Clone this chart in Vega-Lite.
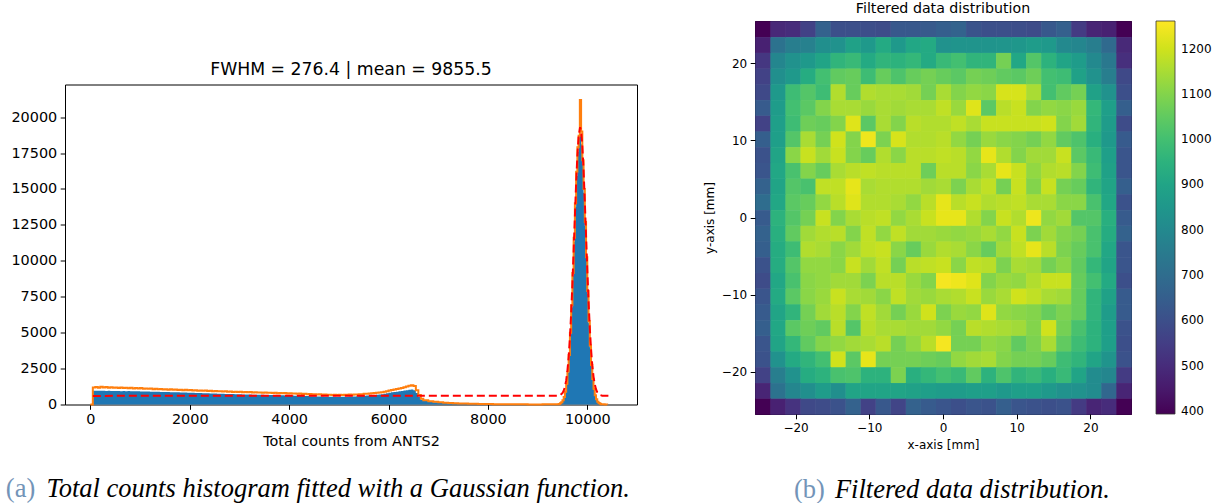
{
"$schema": "https://vega.github.io/schema/vega-lite/v6.json",
"background": "white",
"padding": {"left": 5, "top": 1, "right": 0, "bottom": 0},
"config": {
  "view": {"stroke": "black", "strokeWidth": 1},
  "axis": {"domain": false, "grid": false, "tickColor": "black", "labelColor": "black", "titleColor": "black", "labelFont": "DejaVu Sans", "titleFont": "DejaVu Sans", "titleFontWeight": "normal", "tickSize": 4.8, "labelPadding": 3.5, "labelOverlap": false},
  "title": {"font": "DejaVu Sans", "fontWeight": "normal", "color": "black"},
  "legend": {"labelFont": "DejaVu Sans", "labelColor": "black", "padding": 0},
  "concat": {"spacing": 64}
},
"datasets": {
  "hist": [
    {"x":0,"b":0,"o":0},{"x":50,"b":960,"o":1180},{"x":100,"b":955,"o":1210},{"x":150,"b":965,"o":1170},{"x":200,"b":950,"o":1230},{"x":250,"b":958,"o":1190},{"x":300,"b":945,"o":1220},{"x":350,"b":952,"o":1160},{"x":400,"b":940,"o":1200},{"x":450,"b":948,"o":1170},{"x":500,"b":935,"o":1190},{"x":550,"b":942,"o":1150},{"x":600,"b":930,"o":1180},{"x":650,"b":938,"o":1140},{"x":700,"b":925,"o":1170},{"x":750,"b":932,"o":1130},{"x":800,"b":920,"o":1160},{"x":850,"b":926,"o":1120},{"x":900,"b":915,"o":1150},{"x":950,"b":920,"o":1110},
    {"x":1000,"b":910,"o":1140},{"x":1050,"b":905,"o":1100},{"x":1100,"b":900,"o":1120},{"x":1150,"b":898,"o":1090},{"x":1200,"b":892,"o":1110},{"x":1250,"b":888,"o":1070},{"x":1300,"b":885,"o":1095},{"x":1350,"b":880,"o":1060},{"x":1400,"b":875,"o":1080},{"x":1450,"b":870,"o":1045},{"x":1500,"b":866,"o":1070},{"x":1550,"b":862,"o":1035},{"x":1600,"b":858,"o":1055},{"x":1650,"b":852,"o":1025},{"x":1700,"b":848,"o":1045},{"x":1750,"b":844,"o":1010},{"x":1800,"b":838,"o":1030},{"x":1850,"b":834,"o":1000},{"x":1900,"b":828,"o":1020},{"x":1950,"b":824,"o":990},
    {"x":2000,"b":818,"o":1005},{"x":2050,"b":812,"o":975},{"x":2100,"b":806,"o":995},{"x":2150,"b":800,"o":965},{"x":2200,"b":795,"o":980},{"x":2250,"b":790,"o":950},{"x":2300,"b":784,"o":970},{"x":2350,"b":778,"o":940},{"x":2400,"b":772,"o":955},{"x":2450,"b":766,"o":925},{"x":2500,"b":760,"o":945},{"x":2550,"b":754,"o":915},{"x":2600,"b":749,"o":930},{"x":2650,"b":744,"o":900},{"x":2700,"b":739,"o":918},{"x":2750,"b":734,"o":890},{"x":2800,"b":729,"o":905},{"x":2850,"b":724,"o":878},{"x":2900,"b":719,"o":895},{"x":2950,"b":714,"o":868},
    {"x":3000,"b":709,"o":884},{"x":3050,"b":704,"o":858},{"x":3100,"b":700,"o":872},{"x":3150,"b":695,"o":848},{"x":3200,"b":691,"o":862},{"x":3250,"b":687,"o":838},{"x":3300,"b":683,"o":852},{"x":3350,"b":679,"o":830},{"x":3400,"b":675,"o":842},{"x":3450,"b":671,"o":820},{"x":3500,"b":667,"o":833},{"x":3550,"b":663,"o":810},{"x":3600,"b":659,"o":822},{"x":3650,"b":655,"o":800},{"x":3700,"b":651,"o":812},{"x":3750,"b":647,"o":790},{"x":3800,"b":643,"o":802},{"x":3850,"b":639,"o":780},{"x":3900,"b":635,"o":792},{"x":3950,"b":631,"o":770},
    {"x":4000,"b":626,"o":782},{"x":4050,"b":621,"o":760},{"x":4100,"b":616,"o":770},{"x":4150,"b":610,"o":748},{"x":4200,"b":604,"o":758},{"x":4250,"b":598,"o":735},{"x":4300,"b":592,"o":745},{"x":4350,"b":586,"o":722},{"x":4400,"b":580,"o":732},{"x":4450,"b":574,"o":710},{"x":4500,"b":568,"o":718},{"x":4550,"b":562,"o":698},{"x":4600,"b":556,"o":706},{"x":4650,"b":550,"o":686},{"x":4700,"b":545,"o":694},{"x":4750,"b":540,"o":675},{"x":4800,"b":536,"o":684},{"x":4850,"b":533,"o":668},{"x":4900,"b":531,"o":678},{"x":4950,"b":530,"o":664},
    {"x":5000,"b":531,"o":676},{"x":5050,"b":534,"o":665},{"x":5100,"b":538,"o":680},{"x":5150,"b":543,"o":672},{"x":5200,"b":549,"o":690},{"x":5250,"b":556,"o":684},{"x":5300,"b":564,"o":704},{"x":5350,"b":573,"o":700},{"x":5400,"b":583,"o":722},{"x":5450,"b":594,"o":720},{"x":5500,"b":606,"o":745},{"x":5550,"b":619,"o":745},{"x":5600,"b":633,"o":772},{"x":5650,"b":648,"o":775},{"x":5700,"b":664,"o":805},{"x":5750,"b":681,"o":810},{"x":5800,"b":699,"o":842},{"x":5850,"b":718,"o":850},{"x":5900,"b":740,"o":884},{"x":5950,"b":780,"o":920},
    {"x":6000,"b":820,"o":980},{"x":6050,"b":845,"o":1010},{"x":6100,"b":870,"o":1050},{"x":6150,"b":895,"o":1080},{"x":6200,"b":920,"o":1120},{"x":6250,"b":945,"o":1150},{"x":6300,"b":970,"o":1200},{"x":6350,"b":995,"o":1250},{"x":6400,"b":1020,"o":1310},{"x":6450,"b":1040,"o":1340},{"x":6500,"b":1000,"o":1280},{"x":6550,"b":800,"o":1000},{"x":6600,"b":520,"o":660},{"x":6650,"b":330,"o":400},{"x":6700,"b":260,"o":300},
    {"x":6800,"b":200,"o":230},{"x":6900,"b":160,"o":185},{"x":7000,"b":130,"o":150},{"x":7100,"b":110,"o":125},{"x":7200,"b":92,"o":105},{"x":7300,"b":78,"o":90},{"x":7400,"b":66,"o":76},{"x":7500,"b":56,"o":65},{"x":7600,"b":48,"o":55},{"x":7700,"b":41,"o":48},{"x":7800,"b":35,"o":41},{"x":7900,"b":30,"o":35},{"x":8000,"b":25,"o":30},{"x":8100,"b":21,"o":25},{"x":8200,"b":18,"o":21},{"x":8300,"b":15,"o":18},{"x":8400,"b":12,"o":15},{"x":8500,"b":10,"o":13},{"x":8600,"b":8,"o":10},{"x":8700,"b":7,"o":9},{"x":8800,"b":6,"o":8},{"x":8900,"b":6,"o":8},{"x":9000,"b":6,"o":8},{"x":9100,"b":7,"o":9},{"x":9200,"b":8,"o":10},{"x":9300,"b":11,"o":14},
    {"x":9400,"b":15,"o":20},{"x":9425,"b":33,"o":40},{"x":9450,"b":69,"o":80},{"x":9475,"b":138,"o":150},{"x":9500,"b":264,"o":290},{"x":9525,"b":479,"o":520},{"x":9550,"b":834,"o":880},{"x":9575,"b":1388,"o":1450},{"x":9600,"b":2207,"o":2300},{"x":9625,"b":3352,"o":3450},{"x":9650,"b":4869,"o":5000},{"x":9675,"b":6753,"o":6900},{"x":9700,"b":8953,"o":9150},{"x":9725,"b":11346,"o":11600},{"x":9750,"b":13737,"o":14000},{"x":9775,"b":15897,"o":16200},{"x":9800,"b":17582,"o":17900},{"x":9825,"b":18580,"o":18700},{"x":9850,"b":18763,"o":21200},{"x":9875,"b":18114,"o":19000},
    {"x":9900,"b":16710,"o":17000},{"x":9925,"b":14734,"o":15000},{"x":9950,"b":12414,"o":12700},{"x":9975,"b":9993,"o":10250},{"x":10000,"b":7689,"o":7900},{"x":10025,"b":5657,"o":5800},{"x":10050,"b":3975,"o":4100},{"x":10075,"b":2668,"o":2750},{"x":10100,"b":1713,"o":1780},{"x":10125,"b":1050,"o":1100},{"x":10150,"b":615,"o":650},{"x":10175,"b":345,"o":370},{"x":10200,"b":185,"o":200},{"x":10225,"b":95,"o":105},{"x":10250,"b":46,"o":52},{"x":10275,"b":22,"o":26},{"x":10300,"b":10,"o":12},{"x":10350,"b":4,"o":5},{"x":10400,"b":0,"o":0}
  ],
  "fit": [
    {"x":50,"f":600},{"x":9400,"f":610},{"x":9450,"f":648},{"x":9500,"f":791},{"x":9525,"f":956},{"x":9550,"f":1232},{"x":9575,"f":1677},{"x":9600,"f":2352},{"x":9625,"f":3322},{"x":9650,"f":4640},{"x":9675,"f":6335},{"x":9700,"f":8379},{"x":9725,"f":10681},{"x":9750,"f":13088},{"x":9775,"f":15382},{"x":9800,"f":17323},{"x":9825,"f":18679},{"x":9855,"f":19300},{"x":9875,"f":19039},{"x":9900,"f":18004},{"x":9925,"f":16295},{"x":9950,"f":14126},{"x":9975,"f":11740},{"x":10000,"f":9368},{"x":10025,"f":7195},{"x":10050,"f":5340},{"x":10075,"f":3856},{"x":10100,"f":2737},{"x":10125,"f":1941},{"x":10150,"f":1404},{"x":10175,"f":1061},{"x":10200,"f":852},{"x":10250,"f":666},{"x":10300,"f":614},{"x":10460,"f":600}
  ],
  "spacer": [],
  "grid": [
{"x":-24.48,"y":24.48,"v":393},{"x":-22.44,"y":24.48,"v":490},{"x":-20.4,"y":24.48,"v":500},{"x":-18.36,"y":24.48,"v":560},{"x":-16.32,"y":24.48,"v":660},{"x":-14.28,"y":24.48,"v":600},{"x":-12.24,"y":24.48,"v":600},{"x":-10.2,"y":24.48,"v":595},{"x":-8.16,"y":24.48,"v":590},{"x":-6.12,"y":24.48,"v":630},{"x":-4.08,"y":24.48,"v":630},{"x":-2.04,"y":24.48,"v":635},{"x":0,"y":24.48,"v":650},{"x":2.04,"y":24.48,"v":665},{"x":4.08,"y":24.48,"v":615},{"x":6.12,"y":24.48,"v":600},{"x":8.16,"y":24.48,"v":600},{"x":10.2,"y":24.48,"v":595},{"x":12.24,"y":24.48,"v":590},{"x":14.28,"y":24.48,"v":630},{"x":16.32,"y":24.48,"v":655},{"x":18.36,"y":24.48,"v":540},{"x":20.4,"y":24.48,"v":480},{"x":22.44,"y":24.48,"v":470},{"x":24.48,"y":24.48,"v":393},
{"x":-24.48,"y":22.44,"v":470},{"x":-22.44,"y":22.44,"v":720},{"x":-20.4,"y":22.44,"v":760},{"x":-18.36,"y":22.44,"v":770},{"x":-16.32,"y":22.44,"v":820},{"x":-14.28,"y":22.44,"v":830},{"x":-12.24,"y":22.44,"v":890},{"x":-10.2,"y":22.44,"v":860},{"x":-8.16,"y":22.44,"v":920},{"x":-6.12,"y":22.44,"v":860},{"x":-4.08,"y":22.44,"v":910},{"x":-2.04,"y":22.44,"v":920},{"x":0,"y":22.44,"v":830},{"x":2.04,"y":22.44,"v":840},{"x":4.08,"y":22.44,"v":840},{"x":6.12,"y":22.44,"v":840},{"x":8.16,"y":22.44,"v":845},{"x":10.2,"y":22.44,"v":850},{"x":12.24,"y":22.44,"v":870},{"x":14.28,"y":22.44,"v":860},{"x":16.32,"y":22.44,"v":800},{"x":18.36,"y":22.44,"v":790},{"x":20.4,"y":22.44,"v":760},{"x":22.44,"y":22.44,"v":690},{"x":24.48,"y":22.44,"v":490},
{"x":-24.48,"y":20.4,"v":530},{"x":-22.44,"y":20.4,"v":790},{"x":-20.4,"y":20.4,"v":830},{"x":-18.36,"y":20.4,"v":860},{"x":-16.32,"y":20.4,"v":900},{"x":-14.28,"y":20.4,"v":960},{"x":-12.24,"y":20.4,"v":980},{"x":-10.2,"y":20.4,"v":920},{"x":-8.16,"y":20.4,"v":960},{"x":-6.12,"y":20.4,"v":950},{"x":-4.08,"y":20.4,"v":970},{"x":-2.04,"y":20.4,"v":920},{"x":0,"y":20.4,"v":980},{"x":2.04,"y":20.4,"v":1000},{"x":4.08,"y":20.4,"v":960},{"x":6.12,"y":20.4,"v":960},{"x":8.16,"y":20.4,"v":1080},{"x":10.2,"y":20.4,"v":910},{"x":12.24,"y":20.4,"v":1030},{"x":14.28,"y":20.4,"v":950},{"x":16.32,"y":20.4,"v":900},{"x":18.36,"y":20.4,"v":870},{"x":20.4,"y":20.4,"v":800},{"x":22.44,"y":20.4,"v":740},{"x":24.48,"y":20.4,"v":510},
{"x":-24.48,"y":18.36,"v":560},{"x":-22.44,"y":18.36,"v":820},{"x":-20.4,"y":18.36,"v":860},{"x":-18.36,"y":18.36,"v":930},{"x":-16.32,"y":18.36,"v":1000},{"x":-14.28,"y":18.36,"v":1050},{"x":-12.24,"y":18.36,"v":1060},{"x":-10.2,"y":18.36,"v":990},{"x":-8.16,"y":18.36,"v":1060},{"x":-6.12,"y":18.36,"v":1020},{"x":-4.08,"y":18.36,"v":1060},{"x":-2.04,"y":18.36,"v":1080},{"x":0,"y":18.36,"v":1060},{"x":2.04,"y":18.36,"v":1040},{"x":4.08,"y":18.36,"v":1080},{"x":6.12,"y":18.36,"v":1070},{"x":8.16,"y":18.36,"v":1050},{"x":10.2,"y":18.36,"v":1040},{"x":12.24,"y":18.36,"v":1070},{"x":14.28,"y":18.36,"v":1000},{"x":16.32,"y":18.36,"v":990},{"x":18.36,"y":18.36,"v":890},{"x":20.4,"y":18.36,"v":830},{"x":22.44,"y":18.36,"v":760},{"x":24.48,"y":18.36,"v":580},
{"x":-24.48,"y":16.32,"v":580},{"x":-22.44,"y":16.32,"v":860},{"x":-20.4,"y":16.32,"v":990},{"x":-18.36,"y":16.32,"v":1030},{"x":-16.32,"y":16.32,"v":990},{"x":-14.28,"y":16.32,"v":1160},{"x":-12.24,"y":16.32,"v":1060},{"x":-10.2,"y":16.32,"v":1160},{"x":-8.16,"y":16.32,"v":1150},{"x":-6.12,"y":16.32,"v":1150},{"x":-4.08,"y":16.32,"v":1140},{"x":-2.04,"y":16.32,"v":1080},{"x":0,"y":16.32,"v":1150},{"x":2.04,"y":16.32,"v":1100},{"x":4.08,"y":16.32,"v":1120},{"x":6.12,"y":16.32,"v":1110},{"x":8.16,"y":16.32,"v":1210},{"x":10.2,"y":16.32,"v":1210},{"x":12.24,"y":16.32,"v":1150},{"x":14.28,"y":16.32,"v":1000},{"x":16.32,"y":16.32,"v":1050},{"x":18.36,"y":16.32,"v":1080},{"x":20.4,"y":16.32,"v":890},{"x":22.44,"y":16.32,"v":830},{"x":24.48,"y":16.32,"v":600},
{"x":-24.48,"y":14.28,"v":640},{"x":-22.44,"y":14.28,"v":870},{"x":-20.4,"y":14.28,"v":1000},{"x":-18.36,"y":14.28,"v":1040},{"x":-16.32,"y":14.28,"v":1100},{"x":-14.28,"y":14.28,"v":1150},{"x":-12.24,"y":14.28,"v":1150},{"x":-10.2,"y":14.28,"v":1130},{"x":-8.16,"y":14.28,"v":1150},{"x":-6.12,"y":14.28,"v":1140},{"x":-4.08,"y":14.28,"v":1150},{"x":-2.04,"y":14.28,"v":1150},{"x":0,"y":14.28,"v":1180},{"x":2.04,"y":14.28,"v":1130},{"x":4.08,"y":14.28,"v":1220},{"x":6.12,"y":14.28,"v":1040},{"x":8.16,"y":14.28,"v":1170},{"x":10.2,"y":14.28,"v":1190},{"x":12.24,"y":14.28,"v":1100},{"x":14.28,"y":14.28,"v":1120},{"x":16.32,"y":14.28,"v":1110},{"x":18.36,"y":14.28,"v":1130},{"x":20.4,"y":14.28,"v":970},{"x":22.44,"y":14.28,"v":880},{"x":24.48,"y":14.28,"v":650},
{"x":-24.48,"y":12.24,"v":560},{"x":-22.44,"y":12.24,"v":880},{"x":-20.4,"y":12.24,"v":990},{"x":-18.36,"y":12.24,"v":1070},{"x":-16.32,"y":12.24,"v":1060},{"x":-14.28,"y":12.24,"v":1100},{"x":-12.24,"y":12.24,"v":1220},{"x":-10.2,"y":12.24,"v":1040},{"x":-8.16,"y":12.24,"v":1150},{"x":-6.12,"y":12.24,"v":1100},{"x":-4.08,"y":12.24,"v":1170},{"x":-2.04,"y":12.24,"v":1160},{"x":0,"y":12.24,"v":1160},{"x":2.04,"y":12.24,"v":1180},{"x":4.08,"y":12.24,"v":1150},{"x":6.12,"y":12.24,"v":1190},{"x":8.16,"y":12.24,"v":1190},{"x":10.2,"y":12.24,"v":1190},{"x":12.24,"y":12.24,"v":1190},{"x":14.28,"y":12.24,"v":1200},{"x":16.32,"y":12.24,"v":1100},{"x":18.36,"y":12.24,"v":1140},{"x":20.4,"y":12.24,"v":960},{"x":22.44,"y":12.24,"v":870},{"x":24.48,"y":12.24,"v":590},
{"x":-24.48,"y":10.2,"v":650},{"x":-22.44,"y":10.2,"v":880},{"x":-20.4,"y":10.2,"v":1030},{"x":-18.36,"y":10.2,"v":1150},{"x":-16.32,"y":10.2,"v":1080},{"x":-14.28,"y":10.2,"v":1200},{"x":-12.24,"y":10.2,"v":1100},{"x":-10.2,"y":10.2,"v":1240},{"x":-8.16,"y":10.2,"v":1090},{"x":-6.12,"y":10.2,"v":1210},{"x":-4.08,"y":10.2,"v":1160},{"x":-2.04,"y":10.2,"v":1160},{"x":0,"y":10.2,"v":1170},{"x":2.04,"y":10.2,"v":1120},{"x":4.08,"y":10.2,"v":1080},{"x":6.12,"y":10.2,"v":1130},{"x":8.16,"y":10.2,"v":1110},{"x":10.2,"y":10.2,"v":1100},{"x":12.24,"y":10.2,"v":1080},{"x":14.28,"y":10.2,"v":1120},{"x":16.32,"y":10.2,"v":1050},{"x":18.36,"y":10.2,"v":1020},{"x":20.4,"y":10.2,"v":940},{"x":22.44,"y":10.2,"v":860},{"x":24.48,"y":10.2,"v":640},
{"x":-24.48,"y":8.16,"v":610},{"x":-22.44,"y":8.16,"v":900},{"x":-20.4,"y":8.16,"v":1110},{"x":-18.36,"y":8.16,"v":1190},{"x":-16.32,"y":8.16,"v":1140},{"x":-14.28,"y":8.16,"v":1190},{"x":-12.24,"y":8.16,"v":1100},{"x":-10.2,"y":8.16,"v":1060},{"x":-8.16,"y":8.16,"v":1160},{"x":-6.12,"y":8.16,"v":1110},{"x":-4.08,"y":8.16,"v":1170},{"x":-2.04,"y":8.16,"v":1170},{"x":0,"y":8.16,"v":1180},{"x":2.04,"y":8.16,"v":1170},{"x":4.08,"y":8.16,"v":1120},{"x":6.12,"y":8.16,"v":1230},{"x":8.16,"y":8.16,"v":1160},{"x":10.2,"y":8.16,"v":1100},{"x":12.24,"y":8.16,"v":1140},{"x":14.28,"y":8.16,"v":1140},{"x":16.32,"y":8.16,"v":1190},{"x":18.36,"y":8.16,"v":1040},{"x":20.4,"y":8.16,"v":980},{"x":22.44,"y":8.16,"v":880},{"x":24.48,"y":8.16,"v":620},
{"x":-24.48,"y":6.12,"v":620},{"x":-22.44,"y":6.12,"v":910},{"x":-20.4,"y":6.12,"v":1010},{"x":-18.36,"y":6.12,"v":1100},{"x":-16.32,"y":6.12,"v":1060},{"x":-14.28,"y":6.12,"v":1150},{"x":-12.24,"y":6.12,"v":1170},{"x":-10.2,"y":6.12,"v":1180},{"x":-8.16,"y":6.12,"v":1170},{"x":-6.12,"y":6.12,"v":1170},{"x":-4.08,"y":6.12,"v":1170},{"x":-2.04,"y":6.12,"v":1070},{"x":0,"y":6.12,"v":1170},{"x":2.04,"y":6.12,"v":1170},{"x":4.08,"y":6.12,"v":1110},{"x":6.12,"y":6.12,"v":1150},{"x":8.16,"y":6.12,"v":1230},{"x":10.2,"y":6.12,"v":1190},{"x":12.24,"y":6.12,"v":1120},{"x":14.28,"y":6.12,"v":1160},{"x":16.32,"y":6.12,"v":1170},{"x":18.36,"y":6.12,"v":1100},{"x":20.4,"y":6.12,"v":990},{"x":22.44,"y":6.12,"v":890},{"x":24.48,"y":6.12,"v":620},
{"x":-24.48,"y":4.08,"v":660},{"x":-22.44,"y":4.08,"v":900},{"x":-20.4,"y":4.08,"v":1030},{"x":-18.36,"y":4.08,"v":1010},{"x":-16.32,"y":4.08,"v":1180},{"x":-14.28,"y":4.08,"v":1180},{"x":-12.24,"y":4.08,"v":1230},{"x":-10.2,"y":4.08,"v":1150},{"x":-8.16,"y":4.08,"v":1160},{"x":-6.12,"y":4.08,"v":1160},{"x":-4.08,"y":4.08,"v":1160},{"x":-2.04,"y":4.08,"v":1140},{"x":0,"y":4.08,"v":1150},{"x":2.04,"y":4.08,"v":1090},{"x":4.08,"y":4.08,"v":1150},{"x":6.12,"y":4.08,"v":1180},{"x":8.16,"y":4.08,"v":1080},{"x":10.2,"y":4.08,"v":1190},{"x":12.24,"y":4.08,"v":1100},{"x":14.28,"y":4.08,"v":1190},{"x":16.32,"y":4.08,"v":1080},{"x":18.36,"y":4.08,"v":1060},{"x":20.4,"y":4.08,"v":960},{"x":22.44,"y":4.08,"v":900},{"x":24.48,"y":4.08,"v":650},
{"x":-24.48,"y":2.04,"v":700},{"x":-22.44,"y":2.04,"v":910},{"x":-20.4,"y":2.04,"v":1040},{"x":-18.36,"y":2.04,"v":1060},{"x":-16.32,"y":2.04,"v":1120},{"x":-14.28,"y":2.04,"v":1170},{"x":-12.24,"y":2.04,"v":1220},{"x":-10.2,"y":2.04,"v":1160},{"x":-8.16,"y":2.04,"v":1160},{"x":-6.12,"y":2.04,"v":1150},{"x":-4.08,"y":2.04,"v":1120},{"x":-2.04,"y":2.04,"v":1170},{"x":0,"y":2.04,"v":1230},{"x":2.04,"y":2.04,"v":1170},{"x":4.08,"y":2.04,"v":1190},{"x":6.12,"y":2.04,"v":1160},{"x":8.16,"y":2.04,"v":1170},{"x":10.2,"y":2.04,"v":1180},{"x":12.24,"y":2.04,"v":1150},{"x":14.28,"y":2.04,"v":1150},{"x":16.32,"y":2.04,"v":1110},{"x":18.36,"y":2.04,"v":1110},{"x":20.4,"y":2.04,"v":1010},{"x":22.44,"y":2.04,"v":910},{"x":24.48,"y":2.04,"v":610},
{"x":-24.48,"y":0,"v":640},{"x":-22.44,"y":0,"v":950},{"x":-20.4,"y":0,"v":1030},{"x":-18.36,"y":0,"v":1080},{"x":-16.32,"y":0,"v":1190},{"x":-14.28,"y":0,"v":1100},{"x":-12.24,"y":0,"v":1150},{"x":-10.2,"y":0,"v":1170},{"x":-8.16,"y":0,"v":1180},{"x":-6.12,"y":0,"v":1120},{"x":-4.08,"y":0,"v":1150},{"x":-2.04,"y":0,"v":1190},{"x":0,"y":0,"v":1230},{"x":2.04,"y":0,"v":1230},{"x":4.08,"y":0,"v":1160},{"x":6.12,"y":0,"v":1100},{"x":8.16,"y":0,"v":1190},{"x":10.2,"y":0,"v":1160},{"x":12.24,"y":0,"v":1240},{"x":14.28,"y":0,"v":1120},{"x":16.32,"y":0,"v":1140},{"x":18.36,"y":0,"v":1030},{"x":20.4,"y":0,"v":1030},{"x":22.44,"y":0,"v":940},{"x":24.48,"y":0,"v":640},
{"x":-24.48,"y":-2.04,"v":660},{"x":-22.44,"y":-2.04,"v":940},{"x":-20.4,"y":-2.04,"v":1050},{"x":-18.36,"y":-2.04,"v":1140},{"x":-16.32,"y":-2.04,"v":1160},{"x":-14.28,"y":-2.04,"v":1170},{"x":-12.24,"y":-2.04,"v":1100},{"x":-10.2,"y":-2.04,"v":1180},{"x":-8.16,"y":-2.04,"v":1120},{"x":-6.12,"y":-2.04,"v":1180},{"x":-4.08,"y":-2.04,"v":1140},{"x":-2.04,"y":-2.04,"v":1140},{"x":0,"y":-2.04,"v":1130},{"x":2.04,"y":-2.04,"v":1120},{"x":4.08,"y":-2.04,"v":1130},{"x":6.12,"y":-2.04,"v":1150},{"x":8.16,"y":-2.04,"v":1120},{"x":10.2,"y":-2.04,"v":1190},{"x":12.24,"y":-2.04,"v":1090},{"x":14.28,"y":-2.04,"v":1140},{"x":16.32,"y":-2.04,"v":1100},{"x":18.36,"y":-2.04,"v":1080},{"x":20.4,"y":-2.04,"v":1010},{"x":22.44,"y":-2.04,"v":930},{"x":24.48,"y":-2.04,"v":660},
{"x":-24.48,"y":-4.08,"v":650},{"x":-22.44,"y":-4.08,"v":930},{"x":-20.4,"y":-4.08,"v":990},{"x":-18.36,"y":-4.08,"v":1160},{"x":-16.32,"y":-4.08,"v":1150},{"x":-14.28,"y":-4.08,"v":1110},{"x":-12.24,"y":-4.08,"v":1140},{"x":-10.2,"y":-4.08,"v":1180},{"x":-8.16,"y":-4.08,"v":1190},{"x":-6.12,"y":-4.08,"v":1110},{"x":-4.08,"y":-4.08,"v":1060},{"x":-2.04,"y":-4.08,"v":1130},{"x":0,"y":-4.08,"v":1160},{"x":2.04,"y":-4.08,"v":1150},{"x":4.08,"y":-4.08,"v":1110},{"x":6.12,"y":-4.08,"v":1060},{"x":8.16,"y":-4.08,"v":1140},{"x":10.2,"y":-4.08,"v":1180},{"x":12.24,"y":-4.08,"v":1230},{"x":14.28,"y":-4.08,"v":1170},{"x":16.32,"y":-4.08,"v":1090},{"x":18.36,"y":-4.08,"v":1060},{"x":20.4,"y":-4.08,"v":1010},{"x":22.44,"y":-4.08,"v":910},{"x":24.48,"y":-4.08,"v":620},
{"x":-24.48,"y":-6.12,"v":610},{"x":-22.44,"y":-6.12,"v":930},{"x":-20.4,"y":-6.12,"v":1030},{"x":-18.36,"y":-6.12,"v":1120},{"x":-16.32,"y":-6.12,"v":1120},{"x":-14.28,"y":-6.12,"v":1110},{"x":-12.24,"y":-6.12,"v":1190},{"x":-10.2,"y":-6.12,"v":1140},{"x":-8.16,"y":-6.12,"v":1180},{"x":-6.12,"y":-6.12,"v":1080},{"x":-4.08,"y":-6.12,"v":1170},{"x":-2.04,"y":-6.12,"v":1180},{"x":0,"y":-6.12,"v":1190},{"x":2.04,"y":-6.12,"v":1110},{"x":4.08,"y":-6.12,"v":1180},{"x":6.12,"y":-6.12,"v":1170},{"x":8.16,"y":-6.12,"v":1090},{"x":10.2,"y":-6.12,"v":1150},{"x":12.24,"y":-6.12,"v":1140},{"x":14.28,"y":-6.12,"v":1080},{"x":16.32,"y":-6.12,"v":1110},{"x":18.36,"y":-6.12,"v":1050},{"x":20.4,"y":-6.12,"v":970},{"x":22.44,"y":-6.12,"v":900},{"x":24.48,"y":-6.12,"v":620},
{"x":-24.48,"y":-8.16,"v":590},{"x":-22.44,"y":-8.16,"v":910},{"x":-20.4,"y":-8.16,"v":1010},{"x":-18.36,"y":-8.16,"v":1110},{"x":-16.32,"y":-8.16,"v":1120},{"x":-14.28,"y":-8.16,"v":1140},{"x":-12.24,"y":-8.16,"v":1140},{"x":-10.2,"y":-8.16,"v":1090},{"x":-8.16,"y":-8.16,"v":1170},{"x":-6.12,"y":-8.16,"v":1170},{"x":-4.08,"y":-8.16,"v":1130},{"x":-2.04,"y":-8.16,"v":1100},{"x":0,"y":-8.16,"v":1250},{"x":2.04,"y":-8.16,"v":1240},{"x":4.08,"y":-8.16,"v":1220},{"x":6.12,"y":-8.16,"v":1100},{"x":8.16,"y":-8.16,"v":1130},{"x":10.2,"y":-8.16,"v":1120},{"x":12.24,"y":-8.16,"v":1160},{"x":14.28,"y":-8.16,"v":1190},{"x":16.32,"y":-8.16,"v":1190},{"x":18.36,"y":-8.16,"v":1060},{"x":20.4,"y":-8.16,"v":1000},{"x":22.44,"y":-8.16,"v":920},{"x":24.48,"y":-8.16,"v":600},
{"x":-24.48,"y":-10.2,"v":620},{"x":-22.44,"y":-10.2,"v":920},{"x":-20.4,"y":-10.2,"v":1040},{"x":-18.36,"y":-10.2,"v":1110},{"x":-16.32,"y":-10.2,"v":1130},{"x":-14.28,"y":-10.2,"v":1190},{"x":-12.24,"y":-10.2,"v":1150},{"x":-10.2,"y":-10.2,"v":1140},{"x":-8.16,"y":-10.2,"v":1110},{"x":-6.12,"y":-10.2,"v":1180},{"x":-4.08,"y":-10.2,"v":1140},{"x":-2.04,"y":-10.2,"v":1130},{"x":0,"y":-10.2,"v":1150},{"x":2.04,"y":-10.2,"v":1160},{"x":4.08,"y":-10.2,"v":1190},{"x":6.12,"y":-10.2,"v":1130},{"x":8.16,"y":-10.2,"v":1150},{"x":10.2,"y":-10.2,"v":1200},{"x":12.24,"y":-10.2,"v":1180},{"x":14.28,"y":-10.2,"v":1150},{"x":16.32,"y":-10.2,"v":1140},{"x":18.36,"y":-10.2,"v":1060},{"x":20.4,"y":-10.2,"v":960},{"x":22.44,"y":-10.2,"v":890},{"x":24.48,"y":-10.2,"v":640},
{"x":-24.48,"y":-12.24,"v":640},{"x":-22.44,"y":-12.24,"v":900},{"x":-20.4,"y":-12.24,"v":960},{"x":-18.36,"y":-12.24,"v":1080},{"x":-16.32,"y":-12.24,"v":1140},{"x":-14.28,"y":-12.24,"v":1170},{"x":-12.24,"y":-12.24,"v":1100},{"x":-10.2,"y":-12.24,"v":1180},{"x":-8.16,"y":-12.24,"v":1140},{"x":-6.12,"y":-12.24,"v":1080},{"x":-4.08,"y":-12.24,"v":1130},{"x":-2.04,"y":-12.24,"v":1200},{"x":0,"y":-12.24,"v":1090},{"x":2.04,"y":-12.24,"v":1130},{"x":4.08,"y":-12.24,"v":1120},{"x":6.12,"y":-12.24,"v":1220},{"x":8.16,"y":-12.24,"v":1120},{"x":10.2,"y":-12.24,"v":1110},{"x":12.24,"y":-12.24,"v":1100},{"x":14.28,"y":-12.24,"v":1060},{"x":16.32,"y":-12.24,"v":1090},{"x":18.36,"y":-12.24,"v":1060},{"x":20.4,"y":-12.24,"v":960},{"x":22.44,"y":-12.24,"v":870},{"x":24.48,"y":-12.24,"v":640},
{"x":-24.48,"y":-14.28,"v":650},{"x":-22.44,"y":-14.28,"v":910},{"x":-20.4,"y":-14.28,"v":1040},{"x":-18.36,"y":-14.28,"v":1070},{"x":-16.32,"y":-14.28,"v":1050},{"x":-14.28,"y":-14.28,"v":1170},{"x":-12.24,"y":-14.28,"v":1030},{"x":-10.2,"y":-14.28,"v":1170},{"x":-8.16,"y":-14.28,"v":1150},{"x":-6.12,"y":-14.28,"v":1150},{"x":-4.08,"y":-14.28,"v":1140},{"x":-2.04,"y":-14.28,"v":1140},{"x":0,"y":-14.28,"v":1120},{"x":2.04,"y":-14.28,"v":1080},{"x":4.08,"y":-14.28,"v":1170},{"x":6.12,"y":-14.28,"v":1160},{"x":8.16,"y":-14.28,"v":1150},{"x":10.2,"y":-14.28,"v":1140},{"x":12.24,"y":-14.28,"v":1100},{"x":14.28,"y":-14.28,"v":1200},{"x":16.32,"y":-14.28,"v":1080},{"x":18.36,"y":-14.28,"v":1010},{"x":20.4,"y":-14.28,"v":950},{"x":22.44,"y":-14.28,"v":880},{"x":24.48,"y":-14.28,"v":610},
{"x":-24.48,"y":-16.32,"v":620},{"x":-22.44,"y":-16.32,"v":900},{"x":-20.4,"y":-16.32,"v":970},{"x":-18.36,"y":-16.32,"v":1050},{"x":-16.32,"y":-16.32,"v":1100},{"x":-14.28,"y":-16.32,"v":1120},{"x":-12.24,"y":-16.32,"v":1140},{"x":-10.2,"y":-16.32,"v":1150},{"x":-8.16,"y":-16.32,"v":1170},{"x":-6.12,"y":-16.32,"v":1080},{"x":-4.08,"y":-16.32,"v":1120},{"x":-2.04,"y":-16.32,"v":1170},{"x":0,"y":-16.32,"v":1250},{"x":2.04,"y":-16.32,"v":1080},{"x":4.08,"y":-16.32,"v":1080},{"x":6.12,"y":-16.32,"v":1120},{"x":8.16,"y":-16.32,"v":1110},{"x":10.2,"y":-16.32,"v":1050},{"x":12.24,"y":-16.32,"v":1090},{"x":14.28,"y":-16.32,"v":1150},{"x":16.32,"y":-16.32,"v":1050},{"x":18.36,"y":-16.32,"v":990},{"x":20.4,"y":-16.32,"v":950},{"x":22.44,"y":-16.32,"v":880},{"x":24.48,"y":-16.32,"v":600},
{"x":-24.48,"y":-18.36,"v":610},{"x":-22.44,"y":-18.36,"v":830},{"x":-20.4,"y":-18.36,"v":920},{"x":-18.36,"y":-18.36,"v":960},{"x":-16.32,"y":-18.36,"v":1000},{"x":-14.28,"y":-18.36,"v":1200},{"x":-12.24,"y":-18.36,"v":1040},{"x":-10.2,"y":-18.36,"v":1230},{"x":-8.16,"y":-18.36,"v":1080},{"x":-6.12,"y":-18.36,"v":1080},{"x":-4.08,"y":-18.36,"v":1080},{"x":-2.04,"y":-18.36,"v":1070},{"x":0,"y":-18.36,"v":1060},{"x":2.04,"y":-18.36,"v":1120},{"x":4.08,"y":-18.36,"v":1140},{"x":6.12,"y":-18.36,"v":1150},{"x":8.16,"y":-18.36,"v":1100},{"x":10.2,"y":-18.36,"v":1080},{"x":12.24,"y":-18.36,"v":1080},{"x":14.28,"y":-18.36,"v":1060},{"x":16.32,"y":-18.36,"v":990},{"x":18.36,"y":-18.36,"v":960},{"x":20.4,"y":-18.36,"v":900},{"x":22.44,"y":-18.36,"v":840},{"x":24.48,"y":-18.36,"v":610},
{"x":-24.48,"y":-20.4,"v":560},{"x":-22.44,"y":-20.4,"v":760},{"x":-20.4,"y":-20.4,"v":830},{"x":-18.36,"y":-20.4,"v":930},{"x":-16.32,"y":-20.4,"v":950},{"x":-14.28,"y":-20.4,"v":1010},{"x":-12.24,"y":-20.4,"v":1020},{"x":-10.2,"y":-20.4,"v":950},{"x":-8.16,"y":-20.4,"v":950},{"x":-6.12,"y":-20.4,"v":1090},{"x":-4.08,"y":-20.4,"v":940},{"x":-2.04,"y":-20.4,"v":970},{"x":0,"y":-20.4,"v":1000},{"x":2.04,"y":-20.4,"v":980},{"x":4.08,"y":-20.4,"v":1050},{"x":6.12,"y":-20.4,"v":950},{"x":8.16,"y":-20.4,"v":1020},{"x":10.2,"y":-20.4,"v":960},{"x":12.24,"y":-20.4,"v":980},{"x":14.28,"y":-20.4,"v":940},{"x":16.32,"y":-20.4,"v":980},{"x":18.36,"y":-20.4,"v":900},{"x":20.4,"y":-20.4,"v":810},{"x":22.44,"y":-20.4,"v":790},{"x":24.48,"y":-20.4,"v":540},
{"x":-24.48,"y":-22.44,"v":480},{"x":-22.44,"y":-22.44,"v":720},{"x":-20.4,"y":-22.44,"v":790},{"x":-18.36,"y":-22.44,"v":820},{"x":-16.32,"y":-22.44,"v":870},{"x":-14.28,"y":-22.44,"v":820},{"x":-12.24,"y":-22.44,"v":900},{"x":-10.2,"y":-22.44,"v":900},{"x":-8.16,"y":-22.44,"v":900},{"x":-6.12,"y":-22.44,"v":900},{"x":-4.08,"y":-22.44,"v":890},{"x":-2.04,"y":-22.44,"v":880},{"x":0,"y":-22.44,"v":870},{"x":2.04,"y":-22.44,"v":870},{"x":4.08,"y":-22.44,"v":880},{"x":6.12,"y":-22.44,"v":880},{"x":8.16,"y":-22.44,"v":860},{"x":10.2,"y":-22.44,"v":880},{"x":12.24,"y":-22.44,"v":880},{"x":14.28,"y":-22.44,"v":860},{"x":16.32,"y":-22.44,"v":830},{"x":18.36,"y":-22.44,"v":830},{"x":20.4,"y":-22.44,"v":810},{"x":22.44,"y":-22.44,"v":680},{"x":24.48,"y":-22.44,"v":480},
{"x":-24.48,"y":-24.48,"v":393},{"x":-22.44,"y":-24.48,"v":470},{"x":-20.4,"y":-24.48,"v":520},{"x":-18.36,"y":-24.48,"v":580},{"x":-16.32,"y":-24.48,"v":590},{"x":-14.28,"y":-24.48,"v":610},{"x":-12.24,"y":-24.48,"v":660},{"x":-10.2,"y":-24.48,"v":560},{"x":-8.16,"y":-24.48,"v":630},{"x":-6.12,"y":-24.48,"v":570},{"x":-4.08,"y":-24.48,"v":660},{"x":-2.04,"y":-24.48,"v":640},{"x":0,"y":-24.48,"v":620},{"x":2.04,"y":-24.48,"v":600},{"x":4.08,"y":-24.48,"v":620},{"x":6.12,"y":-24.48,"v":610},{"x":8.16,"y":-24.48,"v":650},{"x":10.2,"y":-24.48,"v":620},{"x":12.24,"y":-24.48,"v":610},{"x":14.28,"y":-24.48,"v":600},{"x":16.32,"y":-24.48,"v":610},{"x":18.36,"y":-24.48,"v":540},{"x":20.4,"y":-24.48,"v":480},{"x":22.44,"y":-24.48,"v":500},{"x":24.48,"y":-24.48,"v":393}
  ]
},
"hconcat": [
  {
    "title": {"text": "(a)", "orient": "bottom", "anchor": "start", "frame": "bounds", "font": "Liberation Serif", "fontSize": 26.5, "fontStyle": "normal", "fontWeight": "normal", "color": "#7394b8", "dx": -4.6, "dy": -26.5, "offset": 0},
    "vconcat": [
      {
        "title": {"text": "Total counts histogram fitted with a Gaussian function.", "orient": "bottom", "anchor": "start", "frame": "bounds", "font": "Liberation Serif", "fontSize": 26.5, "fontStyle": "italic", "fontWeight": "normal", "color": "black", "dx": 36, "offset": 28},
        "spacing": 29.5,
        "vconcat": [
          {
            "width": 572,
            "height": 10,
            "view": {"stroke": null},
            "data": {"name": "spacer"},
            "mark": {"type": "rect", "opacity": 0},
            "encoding": {}
          },
          {
            "width": 572,
            "height": 320,
            "title": {"text": "FWHM = 276.4 | mean = 9855.5", "fontSize": 17.3, "offset": 6},
            "layer": [
              {
                "data": {"name": "hist"},
                "mark": {"type": "area", "interpolate": "step-after", "color": "#1f77b4"},
                "encoding": {
                  "x": {"field": "x", "type": "quantitative", "scale": {"domain": [-510, 11000], "nice": false, "zero": false}, "axis": {"values": [0, 2000, 4000, 6000, 8000, 10000], "format": "d", "labelFontSize": 14.4, "titleFontSize": 14.4, "titlePadding": 8}, "title": "Total counts from ANTS2"},
                  "y": {"field": "b", "type": "quantitative", "scale": {"domain": [0, 22270], "nice": false}, "axis": {"values": [0, 2500, 5000, 7500, 10000, 12500, 15000, 17500, 20000], "format": "d", "labelFontSize": 14.4, "labelOverlap": false}, "title": null}
                }
              },
              {
                "data": {"name": "hist"},
                "mark": {"type": "line", "interpolate": "step-after", "color": "#ff7f0e", "strokeWidth": 2},
                "encoding": {
                  "x": {"field": "x", "type": "quantitative", "axis": {"values": [0, 2000, 4000, 6000, 8000, 10000], "format": "d", "labelFontSize": 14.4, "titleFontSize": 14.4, "titlePadding": 8}, "title": "Total counts from ANTS2"},
                  "y": {"field": "o", "type": "quantitative", "axis": {"values": [0, 2500, 5000, 7500, 10000, 12500, 15000, 17500, 20000], "format": "d", "labelFontSize": 14.4, "labelOverlap": false}, "title": null}
                }
              },
              {
                "data": {"name": "fit"},
                "mark": {"type": "line", "color": "#ff0000", "strokeWidth": 2, "strokeDash": [8, 4]},
                "encoding": {
                  "x": {"field": "x", "type": "quantitative", "axis": {"values": [0, 2000, 4000, 6000, 8000, 10000], "format": "d", "labelFontSize": 14.4, "titleFontSize": 14.4, "titlePadding": 8}, "title": "Total counts from ANTS2"},
                  "y": {"field": "f", "type": "quantitative", "axis": {"values": [0, 2500, 5000, 7500, 10000, 12500, 15000, 17500, 20000], "format": "d", "labelFontSize": 14.4, "labelOverlap": false}, "title": null}
                }
              }
            ]
          }
        ]
      }
    ]
  },
  {
    "title": {"text": "(b)", "orient": "bottom", "anchor": "start", "frame": "bounds", "font": "Liberation Serif", "fontSize": 26.5, "fontStyle": "normal", "fontWeight": "normal", "color": "#7394b8", "dx": 91, "dy": -26.5, "offset": 0},
    "vconcat": [
      {
        "title": {"text": "Filtered data distribution.", "orient": "bottom", "anchor": "start", "frame": "bounds", "font": "Liberation Serif", "fontSize": 26.5, "fontStyle": "italic", "fontWeight": "normal", "color": "black", "dx": 132, "offset": 26},
        "vconcat": [
          {
            "width": 376,
            "height": 393,
            "title": {"text": "Filtered data distribution", "fontSize": 14.2, "offset": 5},
            "data": {"name": "grid"},
            "encoding": {
              "x": {"field": "x", "type": "quantitative", "bin": {"step": 2.04, "extent": [-25.5, 25.5], "nice": false}, "scale": {"domain": [-25.5, 25.5], "nice": false, "zero": false}, "axis": {"values": [-20, -10, 0, 10, 20], "format": "d", "labelFontSize": 12, "titleFontSize": 12, "titlePadding": 6}, "title": "x-axis [mm]"},
              "y": {"field": "y", "type": "quantitative", "bin": {"step": 2.04, "extent": [-25.5, 25.5], "nice": false}, "scale": {"domain": [-25.5, 25.5], "nice": false, "zero": false}, "axis": {"values": [-20, -10, 0, 10, 20], "format": "d", "labelFontSize": 12, "titleFontSize": 12, "titlePadding": 5}, "title": "y-axis [mm]"}
            },
            "layer": [
              {
                "mark": {"type": "rect", "filled": false, "strokeWidth": 0.7},
                "encoding": {
                  "stroke": {"field": "v", "type": "quantitative", "scale": {"scheme": "viridis", "domain": [392, 1261]}, "legend": null}
                }
              },
              {
                "mark": {"type": "rect"},
                "encoding": {
                  "color": {"field": "v", "type": "quantitative", "scale": {"scheme": "viridis", "domain": [393, 1261]}, "legend": {"type": "gradient", "title": null, "values": [400, 500, 600, 700, 800, 900, 1000, 1100, 1200], "gradientLength": 393, "gradientThickness": 19, "offset": 23, "labelFontSize": 12, "labelOffset": 6, "gradientStrokeColor": "#333333", "gradientStrokeWidth": 0.8, "format": "d"}}
                }
              }
            ]
          }
        ]
      }
    ]
  }
]
}
